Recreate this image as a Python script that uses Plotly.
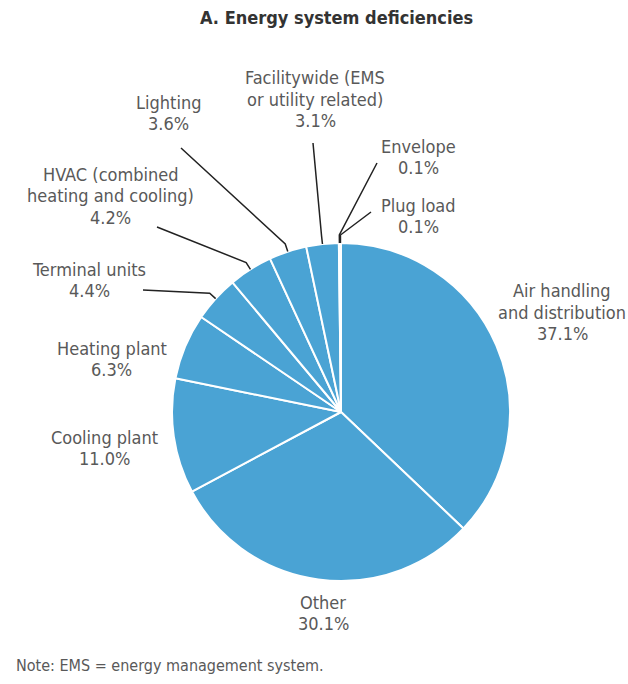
import math
import plotly.graph_objects as go

# ---- data ----
categories = ["Air handling<br>and distribution", "Other", "Cooling plant", "Heating plant",
              "Terminal units", "HVAC (combined<br>heating and cooling)", "Lighting",
              "Facilitywide (EMS<br>or utility related)", "Envelope", "Plug load"]
values = [37.1, 30.1, 11.0, 6.3, 4.4, 4.2, 3.6, 3.1, 0.1, 0.1]
pct_labels = ["37.1%", "30.1%", "11.0%", "6.3%", "4.4%", "4.2%", "3.6%", "3.1%", "0.1%", "0.1%"]

# ---- layout (pixels) ----
W, H = 628, 684
CX, CY, R = 341, 412, 169
LINE_H = 21.5
label_pos = [(562, 312), (323, 613), (104, 448), (112, 359), (89, 280), (111, 196),
             (168, 113), (315, 99), (418, 157), (418, 216)]
leader_start = [None, None, None, None, (143, 290), (157, 227), (181, 148), (313, 143),
                (377, 163), (371, 212)]

def px(x):
    return x / W

def py(y):
    return 1 - y / H

BLUE = "#4aa3d4"
FONT = "Liberation Sans Narrow, DejaVu Sans Condensed, Roboto, sans-serif"

fig = go.Figure(go.Pie(
    values=values,
    labels=[c.replace("<br>", " ") for c in categories],
    sort=False,
    direction="clockwise",
    rotation=0,
    textinfo="none",
    hoverinfo="label+percent",
    marker=dict(colors=[BLUE] * len(values), line=dict(color="white", width=2)),
    domain=dict(x=[px(CX - R), px(CX + R)], y=[py(CY + R), py(CY - R)]),
    showlegend=False,
))

annotations = []
shapes = []
total = sum(values)
cum = 0.0
for i, v in enumerate(values):
    mid = (cum + v / 2) / total
    cum += v
    ang = 2 * math.pi * mid
    lx, ly = label_pos[i]
    lines = categories[i].split("<br>") + [pct_labels[i]]
    n = len(lines)
    for k, t in enumerate(lines):
        yy = ly + (k - (n - 1) / 2) * LINE_H
        annotations.append(dict(
            x=px(lx), y=py(yy), xref="paper", yref="paper",
            text=t, showarrow=False,
            xanchor="center", yanchor="middle", align="center",
            font=dict(family=FONT, size=18, color="#595959"),
        ))
    if leader_start[i] is not None:
        sx, sy = leader_start[i]
        ex, ey = CX + R * math.sin(ang), CY - R * math.cos(ang)
        bx, by = CX + (R + 8) * math.sin(ang), CY - (R + 8) * math.cos(ang)
        path = f"M {px(sx)} {py(sy)} L {px(bx)} {py(by)} L {px(ex)} {py(ey)}"
        shapes.append(dict(type="path", xref="paper", yref="paper", path=path,
                           line=dict(color="#222222", width=1.5)))

annotations.append(dict(
    x=px(336), y=py(17), xref="paper", yref="paper",
    text="<b>A. Energy system deficiencies</b>", showarrow=False,
    xanchor="center", yanchor="middle",
    font=dict(family=FONT, size=18, color="#333333"),
))
annotations.append(dict(
    x=px(14), y=py(665), xref="paper", yref="paper",
    text="Note: EMS = energy management system.", showarrow=False,
    xanchor="left", yanchor="middle",
    font=dict(family=FONT, size=16, color="#595959"),
))

fig.update_layout(
    width=W, height=H,
    margin=dict(l=0, r=0, t=0, b=0),
    paper_bgcolor="white", plot_bgcolor="white",
    annotations=annotations, shapes=shapes,
)

fig.write_html("out.html")
